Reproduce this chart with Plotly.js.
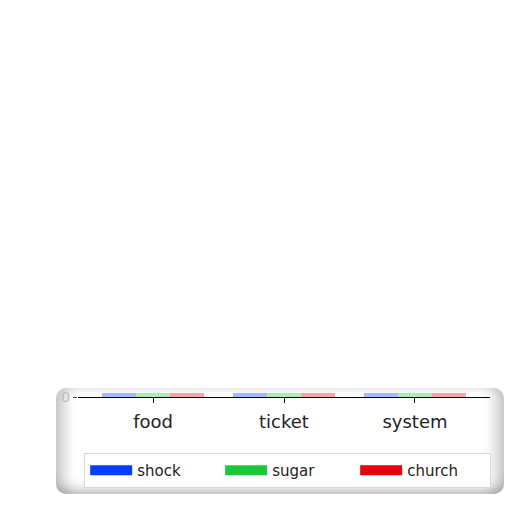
<!DOCTYPE html>
<html>
<head>
<meta charset="utf-8">
<script src="https://cdn.plot.ly/plotly-3.0.1.min.js"></script>
<style>
    html, body { margin: 0; padding: 0; background: #fff; }
    #wrap { position: relative; width: 512px; height: 512px; }
    /* torn paper strip behind the visible bottom of the chart */
    #paper {
        position: absolute; left: 56px; top: 388px; width: 448px; height: 106px;
        background: #fff; border-radius: 10px;
        box-shadow: inset 14px 0 14px -6px rgba(0,0,0,0.22),
                    inset -14px 0 14px -6px rgba(0,0,0,0.22),
                    inset 0 -12px 12px -6px rgba(0,0,0,0.18);
    }
    #chart { position: absolute; left: 0; top: 0; width: 512px; height: 512px; }
</style>
</head>
<body>
<div id="wrap">
    <div id="paper"></div>
    <div id="chart"></div>
</div>
<script>
    // ── Data ──
    const categories = ['food', 'ticket', 'system'];
    const shock  = [5, 7, 4];
    const sugar  = [3, 6, 5];
    const church = [4, 2, 3];

    const series = [
        { name: 'shock',  y: shock,  color: '#023eff' },
        { name: 'sugar',  y: sugar,  color: '#1ac938' },
        { name: 'church', y: church, color: '#e8000b' }
    ];

    const traces = [];
    series.forEach(s => {
        traces.push({
            x: categories, y: s.y, name: s.name,
            type: 'bar', showlegend: false,
            marker: { color: s.color, opacity: 0.35 },
            hoverinfo: 'skip'
        });
    });
    // legend-only entries, drawn as wide colour blocks
    series.forEach(s => {
        traces.push({
            x: [null], y: [null], name: s.name,
            type: 'scatter', mode: 'lines',
            line: { color: s.color, width: 12 }
        });
    });

    // plot area: top 0 .. bottom 397px (397px tall); y axis only uses the bottom 4px
    const plotH = 397;
    Plotly.newPlot('chart', traces, {
        width: 512, height: 512,
        margin: { t: 0, b: 115, l: 78, r: 22 },
        barmode: 'group', bargap: 0.22, bargroupgap: 0,
        showlegend: true,
        legend: {
            orientation: 'h', x: 0.015, xanchor: 'left',
            y: -(453 - plotH) / plotH, yanchor: 'top',
            bordercolor: '#d6d6d6', borderwidth: 1, bgcolor: '#fff',
            itemwidth: 42,
            entrywidth: 78, entrywidthmode: 'pixels',
            font: { family: 'DejaVu Sans', size: 15, color: '#222' }
        },
        xaxis: {
            range: [-0.573, 2.573],
            showline: true, linecolor: '#000', linewidth: 1,
            ticks: 'outside', ticklen: 5, tickcolor: '#000',
            ticklabelstandoff: 3,
            tickfont: { family: 'DejaVu Sans', size: 18, color: '#222' }
        },
        yaxis: {
            domain: [0, 4 / plotH],
            range: [0, 0.5], tickvals: [0], ticktext: ['0'],
            ticks: 'outside', ticklen: 4, showgrid: false, zeroline: false,
            tickfont: { family: 'DejaVu Sans', size: 14, color: '#bbb' }
        },
        paper_bgcolor: 'rgba(0,0,0,0)',
        plot_bgcolor: 'rgba(0,0,0,0)',
        font: { family: 'DejaVu Sans' }
    }, { displayModeBar: false });
</script>
</body>
</html>
